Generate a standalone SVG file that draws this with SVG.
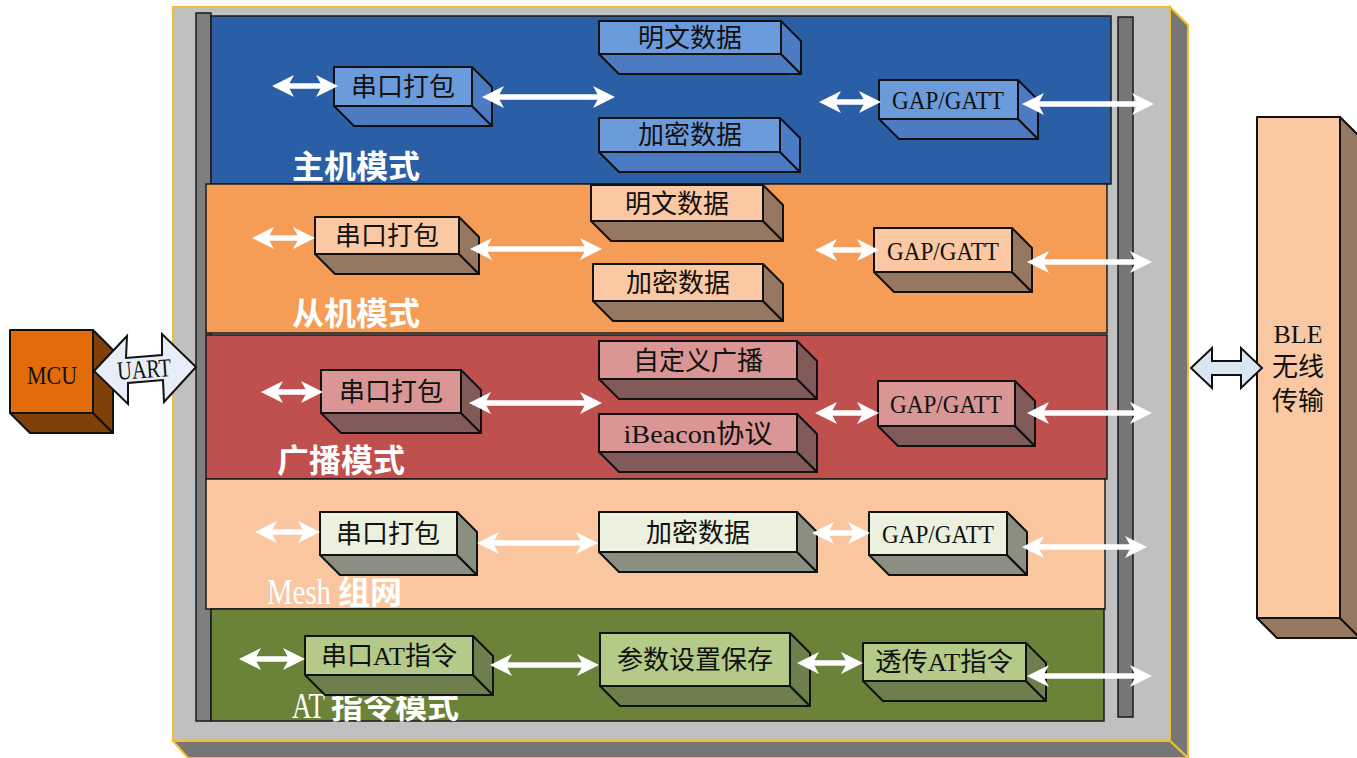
<svg xmlns="http://www.w3.org/2000/svg" width="1357" height="758" viewBox="0 0 1357 758">
<defs>
<marker id="ah" markerUnits="userSpaceOnUse" markerWidth="22" markerHeight="22" viewBox="0 0 22 22" refX="7" refY="11" orient="auto-start-reverse">
<path d="M0,0 L22,11 L0,22 L6,11 Z" fill="#ffffff"/>
</marker>
</defs>
<style>
.pn{stroke:#1a1a1a;stroke-width:1.5}
.bx{stroke:#111;stroke-width:2;stroke-linejoin:round}
.bt{font-family:"Liberation Serif","Noto Sans CJK SC",serif;font-size:26px;fill:#111;text-anchor:middle}
.lb{font-family:"Noto Sans CJK SC",sans-serif;font-weight:bold;font-size:32px;fill:#ffffff}
.lbl{font-family:"Liberation Serif",serif;font-size:35px;fill:#ffffff}
.ar line{stroke:#ffffff;stroke-width:5.5;marker-start:url(#ah);marker-end:url(#ah)}
.bf{fill:#6C9BDB}.bs{fill:#4C7BC3}
.of{fill:#FAC8A2}.os{fill:#967761}
.rf{fill:#D99694}.rs{fill:#825A5A}
.mf{fill:#EBF1DE}.ms{fill:#8B8F82}
.gf{fill:#B3CA88}.gs{fill:#6E7F4E}
</style>

<!-- outer gray 3D frame -->
<g id="frame">
<polygon points="1170,7 1188,25 1188,758 1170,741" fill="#767676" stroke="#F2BE2C" stroke-width="2"/>
<polygon points="173,741 1170,741 1188,758 188,758" fill="#767676" stroke="#F2BE2C" stroke-width="2"/>
<rect x="173" y="7" width="997" height="734" fill="#C0C0C0" stroke="#F2BE2C" stroke-width="2"/>
<rect x="196" y="13" width="15" height="708" fill="#7F7F7F" stroke="#1a1a1a" stroke-width="1.5"/>
<rect x="1118" y="17" width="15" height="700" fill="#767676" stroke="#1a1a1a" stroke-width="1.5"/>
</g>

<!-- panels -->
<g id="panel-master">
<rect class="pn" x="211" y="16" width="900" height="168" fill="#2A5FA6"/>
<text class="lb" x="292" y="178">主机模式</text>
</g>
<g id="panel-slave">
<rect class="pn" x="206" y="184" width="901" height="149" fill="#F59D56"/>
<text class="lb" x="292" y="325">从机模式</text>
</g>
<g id="panel-broadcast">
<rect class="pn" x="206" y="335" width="901" height="144" fill="#C0504D"/>
<text class="lb" x="277" y="472">广播模式</text>
</g>
<g id="panel-mesh">
<rect class="pn" x="206" y="479" width="899" height="130" fill="#F9C6A0"/>
<text class="lbl" x="267" y="604" textLength="64" lengthAdjust="spacingAndGlyphs">Mesh</text>
<text class="lb" x="338" y="604">组网</text>
</g>
<g id="panel-at">
<rect class="pn" x="211" y="609" width="893" height="112" fill="#6A8338"/>
<text class="lbl" x="292" y="718" textLength="33" lengthAdjust="spacingAndGlyphs">AT</text>
<text class="lb" x="331" y="718">指令模式</text>
</g>

<!-- blue boxes -->
<g id="b1" class="bx">
<polygon class="bs" points="334,106 472,106 492,126 354,126"/><polygon class="bs" points="472,67 492,87 492,126 472,106"/>
<rect class="bf" x="334" y="67" width="138" height="39"/>
<text class="bt" x="403" y="96" stroke="none">串口打包</text>
</g>
<g id="b2" class="bx">
<polygon class="bs" points="599,54 781,54 801,74 619,74"/><polygon class="bs" points="781,21 801,41 801,74 781,54"/>
<rect class="bf" x="599" y="21" width="182" height="33"/>
<text class="bt" x="690" y="47" stroke="none">明文数据</text>
</g>
<g id="b3" class="bx">
<polygon class="bs" points="599,152 780,152 800,172 619,172"/><polygon class="bs" points="780,118 800,138 800,172 780,152"/>
<rect class="bf" x="599" y="118" width="181" height="34"/>
<text class="bt" x="690" y="144" stroke="none">加密数据</text>
</g>
<g id="b4" class="bx">
<polygon class="bs" points="879,119 1018,119 1038,139 899,139"/><polygon class="bs" points="1018,80 1038,100 1038,139 1018,119"/>
<rect class="bf" x="879" y="80" width="139" height="39"/>
<text class="bt" x="948" y="109" stroke="none" font-size="28" textLength="112" lengthAdjust="spacingAndGlyphs">GAP/GATT</text>
</g>

<!-- orange boxes -->
<g id="o1" class="bx">
<polygon class="os" points="315,254 459,254 479,274 335,274"/><polygon class="os" points="459,217 479,237 479,274 459,254"/>
<rect class="of" x="315" y="217" width="144" height="37"/>
<text class="bt" x="387" y="245" stroke="none">串口打包</text>
</g>
<g id="o2" class="bx">
<polygon class="os" points="591,221 763,221 783,241 611,241"/><polygon class="os" points="763,185 783,205 783,241 763,221"/>
<rect class="of" x="591" y="185" width="172" height="36"/>
<text class="bt" x="677" y="212.5" stroke="none">明文数据</text>
</g>
<g id="o3" class="bx">
<polygon class="os" points="593,301 763,301 783,321 613,321"/><polygon class="os" points="763,264 783,284 783,321 763,301"/>
<rect class="of" x="593" y="264" width="170" height="37"/>
<text class="bt" x="678" y="292" stroke="none">加密数据</text>
</g>
<g id="o4" class="bx">
<polygon class="os" points="874,272 1012,272 1032,292 894,292"/><polygon class="os" points="1012,228 1032,248 1032,292 1012,272"/>
<rect class="of" x="874" y="228" width="138" height="44"/>
<text class="bt" x="943" y="260" stroke="none" font-size="28" textLength="112" lengthAdjust="spacingAndGlyphs">GAP/GATT</text>
</g>

<!-- red boxes -->
<g id="r1" class="bx">
<polygon class="rs" points="321,413 461,413 481,433 341,433"/><polygon class="rs" points="461,370 481,390 481,433 461,413"/>
<rect class="rf" x="321" y="370" width="140" height="43"/>
<text class="bt" x="391" y="401" stroke="none">串口打包</text>
</g>
<g id="r2" class="bx">
<polygon class="rs" points="599,379 797,379 817,399 619,399"/><polygon class="rs" points="797,341 817,361 817,399 797,379"/>
<rect class="rf" x="599" y="341" width="198" height="38"/>
<text class="bt" x="698" y="369.5" stroke="none" font-size="27">自定义广播</text>
</g>
<g id="r3" class="bx">
<polygon class="rs" points="599,452 797,452 817,472 619,472"/><polygon class="rs" points="797,414 817,434 817,472 797,452"/>
<rect class="rf" x="599" y="414" width="198" height="38"/>
<text class="bt" x="698" y="442.5" stroke="none" textLength="149" lengthAdjust="spacingAndGlyphs">iBeacon协议</text>
</g>
<g id="r4" class="bx">
<polygon class="rs" points="878,426 1015,426 1035,446 898,446"/><polygon class="rs" points="1015,381 1035,401 1035,446 1015,426"/>
<rect class="rf" x="878" y="381" width="137" height="45"/>
<text class="bt" x="946" y="413" stroke="none" font-size="28" textLength="112" lengthAdjust="spacingAndGlyphs">GAP/GATT</text>
</g>

<!-- mesh boxes -->
<g id="m1" class="bx">
<polygon class="ms" points="320,555 457,555 477,575 340,575"/><polygon class="ms" points="457,512 477,532 477,575 457,555"/>
<rect class="mf" x="320" y="512" width="137" height="43"/>
<text class="bt" x="388" y="543" stroke="none">串口打包</text>
</g>
<g id="m2" class="bx">
<polygon class="ms" points="599,552 797,552 817,572 619,572"/><polygon class="ms" points="797,512 817,532 817,572 797,552"/>
<rect class="mf" x="599" y="512" width="198" height="40"/>
<text class="bt" x="698" y="541.5" stroke="none">加密数据</text>
</g>
<g id="m3" class="bx">
<polygon class="ms" points="869,555 1007,555 1027,575 889,575"/><polygon class="ms" points="1007,512 1027,532 1027,575 1007,555"/>
<rect class="mf" x="869" y="512" width="138" height="43"/>
<text class="bt" x="938" y="543" stroke="none" font-size="28" textLength="112" lengthAdjust="spacingAndGlyphs">GAP/GATT</text>
</g>

<!-- green boxes -->
<g id="g1" class="bx">
<polygon class="gs" points="305,675 473,675 493,695 325,695"/><polygon class="gs" points="473,636 493,656 493,695 473,675"/>
<rect class="gf" x="305" y="636" width="168" height="39"/>
<text class="bt" x="389" y="665" stroke="none" textLength="136" lengthAdjust="spacingAndGlyphs">串口AT指令</text>
</g>
<g id="g2" class="bx">
<polygon class="gs" points="600,686 790,686 810,706 620,706"/><polygon class="gs" points="790,633 810,653 810,706 790,686"/>
<rect class="gf" x="600" y="633" width="190" height="53"/>
<text class="bt" x="695" y="669" stroke="none" font-size="27">参数设置保存</text>
</g>
<g id="g3" class="bx">
<polygon class="gs" points="863,681 1026,681 1046,701 883,701"/><polygon class="gs" points="1026,643 1046,663 1046,701 1026,681"/>
<rect class="gf" x="863" y="643" width="163" height="38"/>
<text class="bt" x="944" y="671" stroke="none" textLength="138" lengthAdjust="spacingAndGlyphs">透传AT指令</text>
</g>

<!-- MCU -->
<g id="mcu" class="bx">
<polygon points="10,413 93,413 113,433 30,433" fill="#7F4009"/>
<polygon points="93,330 113,350 113,433 93,413" fill="#7F4009"/>
<rect x="10" y="330" width="83" height="83" fill="#E36C0A"/>
<text class="bt" x="52" y="384" stroke="none" font-size="37" textLength="50" lengthAdjust="spacingAndGlyphs">MCU</text>
</g>

<!-- BLE -->
<g id="ble" class="bx">
<polygon points="1257,618 1340,618 1360,638 1277,638" fill="#977962"/>
<polygon points="1340,117 1360,137 1360,638 1340,618" fill="#977962"/>
<rect x="1257" y="117" width="83" height="501" fill="#FAC9A4"/>
<text class="bt" x="1298" y="343" stroke="none" font-size="24">BLE</text>
<text class="bt" x="1298" y="376" stroke="none">无线</text>
<text class="bt" x="1298" y="410" stroke="none">传输</text>
</g>

<!-- connectors -->
<g id="connectors">
<g id="uart">
<polygon points="94,371 127,336 126,358 162,355 162,334 196,367 164,402 163,380 128,383 128,404" fill="#E8EEF8" stroke="#111" stroke-width="2" stroke-linejoin="miter"/>
<text class="bt" x="144" y="378" font-size="29" textLength="54" lengthAdjust="spacingAndGlyphs" transform="rotate(-4 144 368)">UART</text>
</g>
<polygon id="ble-link" points="1191,368 1212,348 1212,361 1241,361 1241,348 1262,368 1241,388 1241,375 1212,375 1212,388" fill="#DCE6F2" stroke="#111" stroke-width="2"/>
<g class="ar">
<line x1="287" y1="86" x2="323" y2="86"/>
<line x1="497" y1="97" x2="600" y2="97"/>
<line x1="834" y1="102" x2="866" y2="102"/>
<line x1="1037" y1="104" x2="1139" y2="104"/>

<line x1="267" y1="238" x2="300" y2="238"/>
<line x1="485" y1="249" x2="587" y2="249"/>
<line x1="830" y1="250" x2="864" y2="250"/>
<line x1="1042" y1="262" x2="1137" y2="262"/>

<line x1="276" y1="392" x2="308" y2="392"/>
<line x1="484" y1="403" x2="587" y2="403"/>
<line x1="830" y1="413" x2="864" y2="413"/>
<line x1="1042" y1="413" x2="1137" y2="413"/>

<line x1="270" y1="532" x2="305" y2="532"/>
<line x1="492" y1="543" x2="583" y2="543"/>
<line x1="827" y1="533" x2="855" y2="533"/>
<line x1="1037" y1="547" x2="1132" y2="547"/>

<line x1="254" y1="659" x2="290" y2="659"/>
<line x1="505" y1="665" x2="584" y2="665"/>
<line x1="812" y1="663" x2="848" y2="663"/>
<line x1="1042" y1="676" x2="1137" y2="676"/>
</g>
</g>
</svg>
